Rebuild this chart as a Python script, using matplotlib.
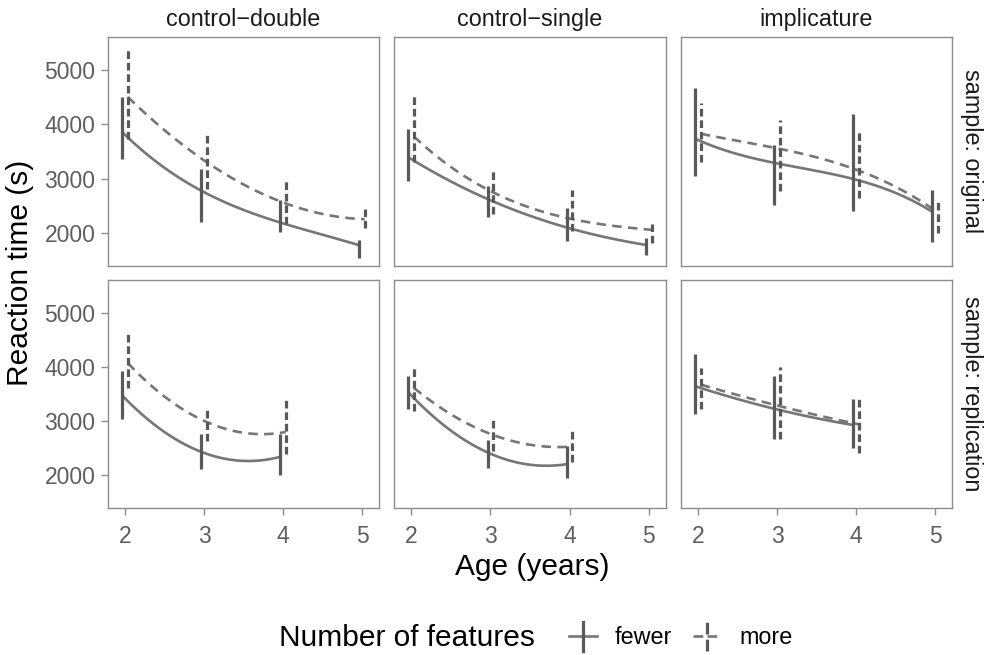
import matplotlib
matplotlib.use("Agg")
import matplotlib.pyplot as plt
from matplotlib.legend_handler import HandlerBase
from matplotlib.lines import Line2D
import numpy as np

plt.rcParams['font.family'] = ['Liberation Sans', 'DejaVu Sans']

## facet layout
conditions = ["control\u2212double", "control\u2212single", "implicature"]
samples = ["original", "replication"]
groups = ["fewer", "more"]

ages_original = [2, 3, 4, 5]
ages_replication = [2, 3, 4]

## fitted curve values at each age
fit = {
    ("original", "control\u2212double", "fewer"): [3858, 2778, 2191, 1772],
    ("original", "control\u2212double", "more"): [4506, 3302, 2543, 2253],
    ("original", "control\u2212single", "fewer"): [3395, 2624, 2099, 1778],
    ("original", "control\u2212single", "more"): [3778, 2747, 2253, 2056],
    ("original", "implicature", "fewer"): [3735, 3291, 2994, 2389],
    ("original", "implicature", "more"): [3827, 3549, 3148, 2377],
    ("replication", "control\u2212double", "fewer"): [3472, 2429, 2337],
    ("replication", "control\u2212double", "more"): [4074, 2981, 2797],
    ("replication", "control\u2212single", "fewer"): [3533, 2418, 2202],
    ("replication", "control\u2212single", "more"): [3614, 2742, 2528],
    ("replication", "implicature", "fewer"): [3644, 3227, 2926],
    ("replication", "implicature", "more"): [3675, 3275, 2939],
}

## error bar limits (low, high)
err_lo = {
    ("original", "control\u2212double", "fewer"): [3365, 2204, 2019, 1543],
    ("original", "control\u2212double", "more"): [3735, 2809, 2173, 2099],
    ("original", "control\u2212single", "fewer"): [2951, 2284, 1852, 1593],
    ("original", "control\u2212single", "more"): [3302, 2346, 2037, 1821],
    ("original", "implicature", "fewer"): [3043, 2519, 2407, 1833],
    ("original", "implicature", "more"): [3302, 2778, 2636, 1994],
    ("replication", "control\u2212double", "fewer"): [3031, 2110, 2005],
    ("replication", "control\u2212double", "more"): [3614, 2632, 2386],
    ("replication", "control\u2212single", "fewer"): [3215, 2123, 1939],
    ("replication", "control\u2212single", "more"): [3184, 2447, 2234],
    ("replication", "implicature", "fewer"): [3123, 2675, 2497],
    ("replication", "implicature", "more"): [3215, 2675, 2399],
}
err_hi = {
    ("original", "control\u2212double", "fewer"): [4506, 3180, 2606, 1865],
    ("original", "control\u2212double", "more"): [5431, 3809, 2994, 2438],
    ("original", "control\u2212single", "fewer"): [3907, 2870, 2451, 1901],
    ("original", "control\u2212single", "more"): [4568, 3148, 2790, 2173],
    ("original", "implicature", "fewer"): [4679, 3624, 4185, 2790],
    ("original", "implicature", "more"): [4395, 4074, 3920, 2562],
    ("replication", "control\u2212double", "fewer"): [3932, 2767, 2767],
    ("replication", "control\u2212double", "more"): [4656, 3246, 3380],
    ("replication", "control\u2212single", "fewer"): [3840, 2650, 2540],
    ("replication", "control\u2212single", "more"): [4012, 3049, 2828],
    ("replication", "implicature", "fewer"): [4245, 3828, 3399],
    ("replication", "implicature", "more"): [3982, 3994, 3472],
}

x_ticks = [2, 3, 4, 5]
y_ticks = [2000, 3000, 4000, 5000]

## styles
line_col = "#767676"
bar_col = "#595959"
dodge = {"fewer": -0.035, "more": 0.035}
curve_dash = {"fewer": "-", "more": (0, (3.6, 2.4))}
bar_dash = {"fewer": "-", "more": (0, (2.4, 1.2))}

W, H = 990, 655
fig = plt.figure(figsize=(W / 100, H / 100), dpi=100)

col_px = [(108, 379), (394, 666), (681, 952)]
row_px = [(37, 266), (280, 508)]


def add_panel(c, r):
    x0, x1 = col_px[c]
    y0, y1 = row_px[r]
    return fig.add_axes([x0 / W, 1 - y1 / H, (x1 - x0) / W, (y1 - y0) / H])


for r, sample in enumerate(samples):
    ages = ages_original if sample == "original" else ages_replication
    for c, cond in enumerate(conditions):
        ax = add_panel(c, r)
        for g in groups:
            key = (sample, cond, g)
            xs = np.array(ages) + dodge[g]
            ys = np.array(fit[key])
            ## smooth curve through the fitted points
            coef = np.polyfit(xs, ys, len(xs) - 1)
            xx = np.linspace(xs[0], xs[-1], 200)
            ax.plot(xx, np.polyval(coef, xx), color=line_col, lw=1.9,
                    linestyle=curve_dash[g], solid_capstyle="butt", zorder=2)
            ax.vlines(xs, err_lo[key], err_hi[key], color=bar_col, lw=2.3,
                      linestyles=[bar_dash[g]], zorder=3)

        ax.set_xlim(1.785, 5.215)
        ax.set_ylim(1390, 5610)
        ax.set_xticks(x_ticks)
        ax.set_yticks(y_ticks)
        for s in ax.spines.values():
            s.set_color("#8c8c8c")
            s.set_linewidth(1.0)
        ax.tick_params(colors="#8c8c8c", labelcolor="#5e5e5e", labelsize=16.5,
                       length=5, width=1.0)
        ax.tick_params(axis="x", pad=7.5)
        ax.tick_params(axis="y", pad=4)
        if r == 0:
            ax.tick_params(axis="x", bottom=False, labelbottom=False)
            ax.set_title(cond, fontsize=16.8, color="#1a1a1a", pad=8)
        if c > 0:
            ax.tick_params(axis="y", left=False, labelleft=False)
        if c == 2:
            ax.text(1 + 20 / 271, 0.5, "sample: " + sample, transform=ax.transAxes,
                    rotation=-90, ha="center", va="center", fontsize=16.8,
                    color="#1a1a1a")

fig.text(20 / W, 1 - 273 / H, "Reaction time (s)", rotation=90, ha="center",
         va="center", fontsize=21.5)
fig.text(532 / W, 1 - 567 / H, "Age (years)", ha="center", va="center",
         fontsize=21.5)


class KeyHandler(HandlerBase):
    def create_artists(self, legend, orig, xd, yd, width, height, fontsize, trans):
        ls = orig.get_linestyle()
        mid = yd + height / 2
        h = Line2D([xd, xd + width], [mid, mid], color=line_col,
                   lw=1.9, linestyle=ls, transform=trans)
        v = Line2D([xd + width / 2] * 2, [mid - 10.4, mid + 10.4],
                   color=bar_col, lw=2.3, linestyle=ls, transform=trans)
        return [h, v]


handles = [Line2D([], [], linestyle="-"), Line2D([], [], linestyle=(0, (1.6, 2.6)))]
fig.text(407 / W, 1 - 638 / H, "Number of features", ha="center", va="center",
         fontsize=21.5)
fig.legend(handles, groups, handler_map={Line2D: KeyHandler()},
           loc="center left", bbox_to_anchor=(548 / W, 1 - 638 / H), ncol=2,
           frameon=False, fontsize=16.8, handlelength=1.2, handletextpad=0.77,
           columnspacing=0.9)

fig.savefig("out.png", dpi=100)
